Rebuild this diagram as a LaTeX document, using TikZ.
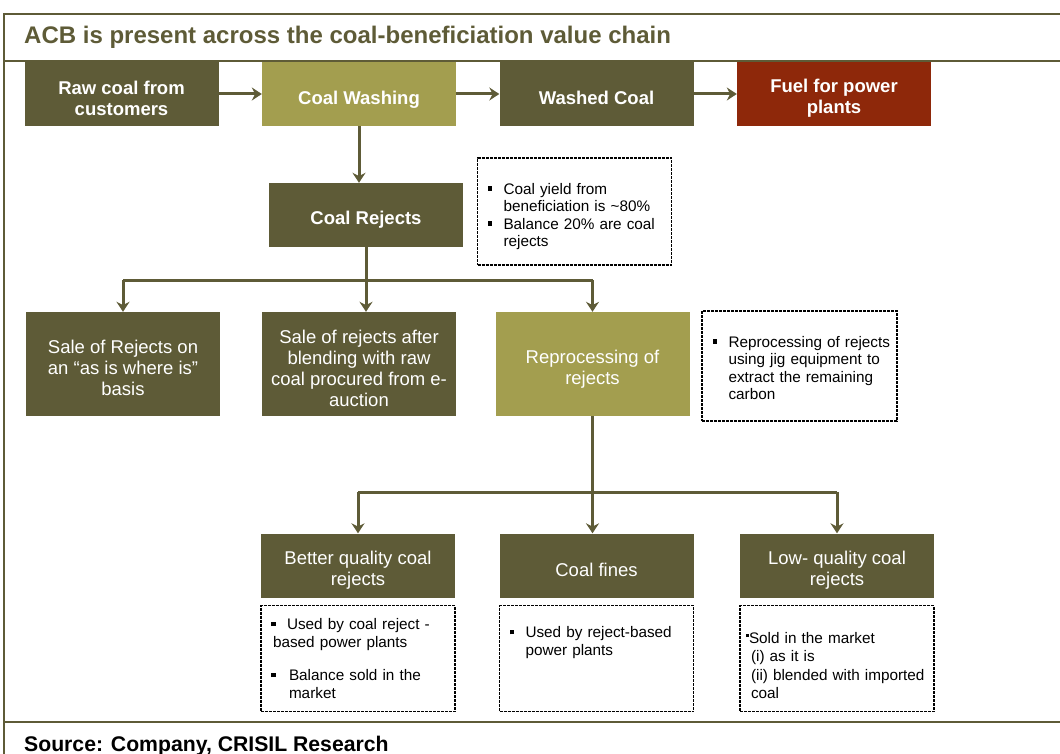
\documentclass[tikz,border=0pt]{standalone}
\usepackage{fontspec}
\setmainfont{Liberation Sans}
\usetikzlibrary{arrows.meta}

\definecolor{coaldark}{RGB}{94,91,55}
\definecolor{coallight}{RGB}{163,158,79}
\definecolor{fuelred}{RGB}{142,40,10}

\newcommand{\bigfont}{\fontsize{18.5}{21}\selectfont}
\newcommand{\notefont}{\fontsize{15.3}{17.5}\selectfont}
\newcommand{\bul}{\hspace*{4pt}\makebox[16pt][l]{\rule[3.5pt]{4.5pt}{4.5pt}}}
\newcommand{\ind}{\hspace*{20pt}}
\newcommand{\up}[1][22pt]{\rule{0pt}{#1}}

\begin{document}
\begin{tikzpicture}[x=1pt, y=-1pt,
		stage/.style={fill=coaldark, text=white, minimum width=194pt, minimum height=64pt, inner sep=0pt, align=center, font=\bigfont\bfseries},
		option/.style={stage, minimum height=104pt, font=\bigfont},
		light/.style={fill=coallight},
		note/.style={draw=black, line width=1.1pt, dash pattern=on 3pt off 1pt, minimum width=194pt, minimum height=106pt, inner xsep=6pt, inner ysep=0pt, text width=182pt, align=left, font=\notefont},
		link/.style={draw=coaldark, line width=3pt},
		flow/.style={link, -{Stealth[length=10pt, width=13pt]}},
		frame/.style={draw=coaldark, line width=2pt}]
		\useasboundingbox (0,0) rectangle (1060,754);

		% frame of the exhibit
		\draw[frame] (4,754) -- (4,14) -- (1060,14);
		\draw[frame] (4,61) -- (1060,61);
		\draw[frame] (4,722) -- (1060,722);

		\node[anchor=west, inner sep=0pt, text=coaldark, font=\fontsize{24}{26}\selectfont\bfseries] (title) at (24,37) {ACB is present across the coal-beneficiation value chain};
		\node[anchor=base west, font=\fontsize{21.2}{24}\selectfont\bfseries, inner sep=0pt] (source) at (24,751) {Source: Company, CRISIL Research};

		% main chain
		\node[stage] (raw) at (121.5,94) {\up Raw coal from\\customers};
		\node[stage, light] (wash) at (359,94) {\up[25pt]Coal Washing};
		\node[stage] (washed) at (596.5,94) {\up Washed Coal};
		\node[stage, fill=fuelred] (fuel) at (834,94) {\up Fuel for power\\plants};
		\node[stage] (rejects) at (366,215) {\up Coal Rejects};

		\draw[flow] (raw) -- (wash);
		\draw[flow] (wash) -- (washed);
		\draw[flow] (washed) -- (fuel);
		\draw[flow] (wash.south) -- (wash.south |- rejects.north);

		\node[note, minimum width=193pt, minimum height=107pt] (yield) at (574.5,211.5) {\up[21pt]\bul Coal yield from\\ \ind beneficiation is \textasciitilde80\%\\ \bul Balance 20\% are coal\\ \ind rejects};

		% use of the rejects
		\node[option] (asis) at (123,364) {\up Sale of Rejects on\\an “as is where is”\\basis};
		\node[option] (blend) at (359,364) {\up Sale of rejects after\\blending with raw\\coal procured from e-\\auction};
		\node[option, light] (repro) at (592.5,364) {\up[24pt]Reprocessing of\\rejects};

		\coordinate (br) at (rejects.south |- 0,280);
		\draw[link] (rejects.south) -- (br);
		\draw[link] (asis.north |- br) -- (repro.north |- br);
		\draw[flow] (asis.north |- br) -- (asis.north);
		\draw[flow] (br) -- (br |- blend.north);
		\draw[flow] (repro.north |- br) -- (repro.north);

		\node[note, minimum width=195pt, minimum height=110pt] (jig) at (799.5,366) {\up[15pt]\mbox{\bul Reprocessing of rejects}\\ \ind using jig equipment to\\ \ind extract the remaining\\ \ind carbon};

		% products of reprocessing
		\node[stage, font=\bigfont] (better) at (358,565.5) {\up Better quality coal\\rejects};
		\node[stage, font=\bigfont] (fines) at (596.5,565.5) {\up Coal fines};
		\node[stage, font=\bigfont] (lowq) at (837,565.5) {\up Low- quality coal\\rejects};

		\coordinate (bq) at (repro.south |- 0,492);
		\draw[link] (repro.south) -- (bq);
		\draw[link] (better.north |- bq) -- (lowq.north |- bq);
		\draw[flow] (better.north |- bq) -- (better.north);
		\draw[flow] (bq) -- (bq |- fines.north);
		\draw[flow] (lowq.north |- bq) -- (lowq.north);

		\node[note] (betteruse) at (358,658.5) {\mbox{\bul Used by coal reject -}\\ \hspace*{6pt}based power plants\\[16pt] \bul\hspace*{2pt}Balance sold in the\\ \hspace*{22pt}market};
		\node[note] (finesuse) at (596.5,658.5) {\bul Used by reject-based\\ \ind power plants\\ \mbox{}\\ \mbox{}};
		\node[note] (lowquse) at (837,658.5) {\up[25pt]\raisebox{6pt}{\rule{3pt}{3pt}}Sold in the market\\[1pt] \hspace*{5pt}(i) as it is\\[1pt] \mbox{\hspace*{5pt}(ii) blended with imported}\\[1pt] \hspace*{5pt}coal};
	\end{tikzpicture}
\end{document}
